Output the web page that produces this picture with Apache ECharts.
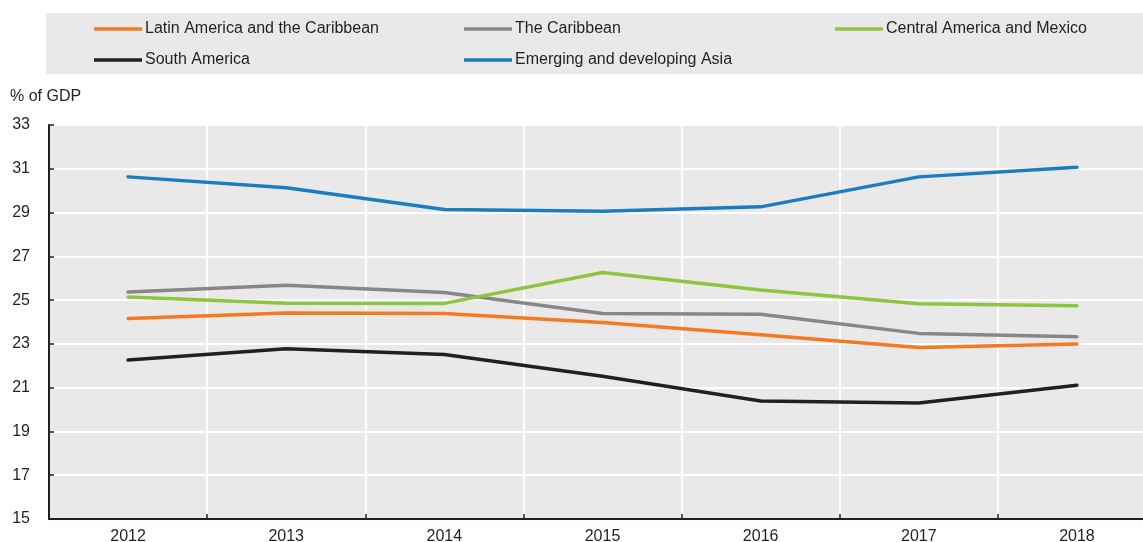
<!DOCTYPE html>
<html lang="en">
<head>
	<meta charset="UTF-8">
	<title>% of GDP</title>
	<script src="https://cdn.jsdelivr.net/npm/echarts@6/dist/echarts.min.js" type="text/javascript"></script>
	<style>
		html,body{margin:0;padding:0;background:#fff;}
		#chart{width:1143px;height:542px;}
	</style>
</head>
<body>
<div id="chart"></div>
<script>
	//数据
	var years = ['2012','2013','2014','2015','2016','2017','2018'];
	var latam = [24.16, 24.41, 24.39, 23.98, 23.42, 22.84, 22.99];
	var caribbean = [25.37, 25.68, 25.35, 24.39, 24.35, 23.48, 23.33];
	var centralMexico = [25.14, 24.86, 24.85, 26.26, 25.46, 24.83, 24.74];
	var southAmerica = [22.26, 22.78, 22.52, 21.52, 20.39, 20.30, 21.11];
	var asia = [30.63, 30.13, 29.14, 29.06, 29.26, 30.63, 31.07];

	var font = '"Liberation Sans Narrow", "Arial Narrow", "Liberation Sans", Arial, sans-serif';
	var txt = '#231f20';

	//图例位置
	function legendAt(name, left, top){
		return {
			data:[name],
			left:left,
			top:top,
			icon:'rect',
			itemWidth:48,
			itemHeight:3.5,
			itemGap:0,
			padding:0,
			textStyle:{fontFamily:font, fontSize:16, color:txt, padding:[0,0,0,-2]}
		};
	}
	function line(name, data, color){
		return {
			name:name,
			type:'line',
			data:data,
			symbol:'none',
			lineStyle:{width:3.5, color:color, cap:'round', join:'round'},
			itemStyle:{color:color},
			z:3
		};
	}

	var myChart = echarts.init(document.getElementById('chart'), null, {renderer:'canvas'});
	var option = {
		animation:false,
		backgroundColor:'#fff',
		graphic:[{
			type:'rect',
			shape:{x:46, y:13, width:1097, height:61},
			style:{fill:'#e9e9e9'},
			z:-1
		}],
		title:{
			text:'% of GDP',
			left:10,
			top:89,
			padding:0,
			textStyle:{fontFamily:font, fontSize:16, fontWeight:'normal', color:txt}
		},
		legend:[
			legendAt('Latin America and the Caribbean', 94, 21),
			legendAt('The Caribbean', 464, 21),
			legendAt('Central America and Mexico', 835, 21),
			legendAt('South America', 94, 52),
			legendAt('Emerging and developing Asia', 464, 52)
		],
		grid:{
			left:49,
			right:-13,
			top:125,
			bottom:23,
			outerBoundsMode:'none',
			containLabel:false,
			show:true,
			backgroundColor:'#e9e9e9',
			borderWidth:0
		},
		xAxis:{
			type:'category',
			data:years,
			boundaryGap:true,
			axisLine:{show:true, lineStyle:{color:txt, width:2}},
			axisTick:{show:true, inside:true, length:5, lineStyle:{color:txt, width:1.5}},
			axisLabel:{fontFamily:font, fontSize:16, color:txt, margin:10},
			splitLine:{show:true, lineStyle:{color:'#fff', width:2}}
		},
		yAxis:{
			type:'value',
			min:15,
			max:33,
			interval:2,
			axisLine:{show:true, lineStyle:{color:txt, width:2}},
			axisTick:{show:true, inside:true, length:5, lineStyle:{color:txt, width:1.5}},
			axisLabel:{fontFamily:font, fontSize:16, color:txt, margin:19},
			splitLine:{show:true, lineStyle:{color:'#fff', width:2}}
		},
		series:[
			line('Latin America and the Caribbean', latam, '#f47920'),
			line('The Caribbean', caribbean, '#878787'),
			line('Central America and Mexico', centralMexico, '#8cc641'),
			line('South America', southAmerica, '#231f20'),
			line('Emerging and developing Asia', asia, '#1a7dc2')
		]
	};
	myChart.setOption(option);
</script>
</body>
</html>
